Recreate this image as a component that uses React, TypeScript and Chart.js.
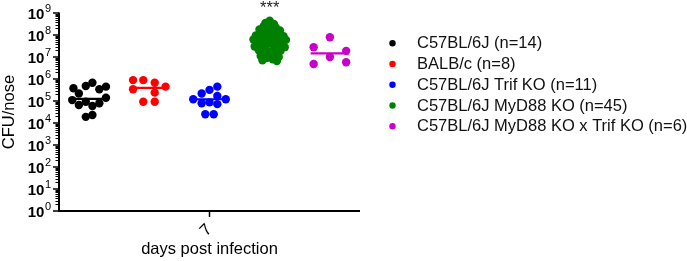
import React, { useEffect, useRef } from "react";
import { Chart, registerables } from "chart.js";

Chart.register(...registerables);

// ---------- data ----------
const groupLabels = [
  "C57BL/6J (n=14)",
  "BALB/c (n=8)",
  "C57BL/6J Trif KO (n=11)",
  "C57BL/6J MyD88 KO (n=45)",
  "C57BL/6J MyD88 KO x Trif KO (n=6)",
];
const xTickLabels = ["7"];
const yTickExponents = [0, 1, 2, 3, 4, 5, 6, 7, 8, 9];
const significanceLabel = "***";

const c57Values = [3.8e5, 4.8e5, 6.8e5, 4.5e5, 3.4e5, 2.2e5, 1.4e5, 1.1e5, 6.6e4, 9.3e4, 5.9e4, 7.9e4, 1.9e4, 2.3e4];
const balbValues = [8.9e5, 8.9e5, 6.8e5, 4.5e5, 3.4e5, 2.4e5, 9.3e4, 9.3e4];
const trifValues = [4.5e5, 3.2e5, 2.2e5, 1.2e5, 1.7e5, 1.2e5, 7.9e4, 8.7e4, 7.2e4, 2.5e4, 2.5e4];
const myd88Values = [
  4.5e8, 3.5e8, 3.2e8, 2.5e8, 2.2e8, 2.0e8, 1.8e8, 1.6e8, 1.4e8, 1.3e8, 1.1e8, 1.0e8, 9.5e7, 8.9e7, 8.3e7,
  7.9e7, 7.6e7, 7.1e7, 6.6e7, 6.3e7, 6.0e7, 5.6e7, 5.2e7, 5.0e7, 4.8e7, 4.5e7, 4.2e7, 4.0e7, 3.5e7, 3.2e7,
  3.0e7, 2.8e7, 2.5e7, 2.2e7, 2.0e7, 1.9e7, 1.6e7, 1.4e7, 1.3e7, 1.1e7, 1.0e7, 8.9e6, 7.9e6, 7.1e6, 6.6e6,
];
const dkoValues = [7.9e7, 2.8e7, 1.9e7, 1.0e7, 4.8e6, 5.8e6];

// horizontal scatter (jitter) of each point, in category units
const c57Jitter = [-0.26, -0.055, 0.055, 0.28, 0.17, -0.17, 0.28, -0.28, -0.17, -0.055, 0.055, 0.17, -0.055, 0.055];
const balbJitter = [-0.27, -0.1, 0.09, 0.27, -0.27, 0.09, -0.1, 0.09];
const trifJitter = [0.13, 0, -0.13, -0.27, 0.13, 0.27, -0.13, 0, 0.13, -0.07, 0.07];
const myd88Jitter = [
  0, -0.07, 0.07, -0.1, 0.1, 0, -0.17, 0.17, -0.05, 0.05, -0.13, 0.13, -0.23, 0.23, 0,
  -0.08, 0.08, -0.17, 0.17, -0.27, 0.27, 0, -0.1, 0.1, -0.2, 0.2, -0.03, 0.03, -0.13, 0.13,
  -0.25, 0.25, -0.07, 0.07, -0.18, 0.18, 0, -0.1, 0.1, -0.15, 0.15, -0.05, 0.05, -0.12, 0.12,
];
const dkoJitter = [0, -0.27, 0.27, 0, -0.27, 0.27];

// ---------- style ----------
const groupColors = ["#000000", "#ff0000", "#0000ff", "#008000", "#c800c8"];
const groupPositions = [-2, -1, 0, 1, 2];
const MEDIAN_HALF = 0.32;
const FONT = '"Liberation Sans", Arial, Helvetica, sans-serif';
const TEXT_SIZE = 16.5;

function median(vals: number[]): number {
  const s = [...vals].sort((a, b) => a - b);
  const n = s.length;
  return n % 2 ? s[(n - 1) / 2] : (s[n / 2 - 1] + s[n / 2]) / 2;
}

const prismPlugin = {
  id: "prismDecor",
  afterDraw(chart: any) {
    const ctx: CanvasRenderingContext2D = chart.ctx;
    const xs = chart.scales.x;
    const ys = chart.scales.y;
    const area = chart.chartArea;
    ctx.save();
    ctx.strokeStyle = "#000";
    ctx.fillStyle = "#000";

    // y axis line
    const axX = area.left;
    const axBottom = ys.getPixelForValue(1);
    ctx.lineWidth = 2;
    ctx.beginPath();
    ctx.moveTo(axX, ys.getPixelForValue(1e9) - 0.5);
    ctx.lineTo(axX, axBottom + 1);
    ctx.stroke();
    // x axis line
    ctx.beginPath();
    ctx.moveTo(axX - 1, axBottom);
    ctx.lineTo(area.right, axBottom);
    ctx.stroke();

    // y ticks
    ctx.lineWidth = 1.5;
    yTickExponents.forEach((e) => {
      const y = ys.getPixelForValue(Math.pow(10, e));
      ctx.beginPath();
      ctx.moveTo(axX - 6, y);
      ctx.lineTo(axX, y);
      ctx.stroke();
    });
    ctx.lineWidth = 1;
    for (let e = 0; e < 9; e++) {
      for (let k = 2; k <= 9; k++) {
        const y = Math.round(ys.getPixelForValue(k * Math.pow(10, e))) + 0.5;
        ctx.beginPath();
        ctx.moveTo(axX - 3.5, y);
        ctx.lineTo(axX, y);
        ctx.stroke();
      }
    }
    // y tick labels 10^n
    const labelRight = axX - 8;
    yTickExponents.forEach((e) => {
      const y = ys.getPixelForValue(Math.pow(10, e));
      ctx.font = `11px ${FONT}`;
      ctx.textAlign = "right";
      ctx.textBaseline = "alphabetic";
      const es = String(e);
      const ew = ctx.measureText(es).width;
      ctx.fillText(es, labelRight, y - 1);
      ctx.font = `bold 15px ${FONT}`;
      ctx.fillText("10", labelRight - ew - 0.5, y + 5.5);
    });

    // x tick + label
    xTickLabels.forEach((lab, i) => {
      const x = xs.getPixelForValue(groupPositions[2] + i);
      ctx.lineWidth = 1.5;
      ctx.beginPath();
      ctx.moveTo(x, axBottom);
      ctx.lineTo(x, axBottom + 6);
      ctx.stroke();
      ctx.save();
      ctx.translate(x, axBottom + 16);
      ctx.rotate(-Math.PI / 4);
      ctx.font = `${TEXT_SIZE}px ${FONT}`;
      ctx.textAlign = "right";
      ctx.textBaseline = "middle";
      ctx.fillText(lab, 0, 0);
      ctx.restore();
    });

    // axis titles
    ctx.font = `${TEXT_SIZE}px ${FONT}`;
    ctx.textAlign = "center";
    ctx.textBaseline = "alphabetic";
    ctx.fillText("days post infection", xs.getPixelForValue(0), 254);
    ctx.save();
    ctx.translate(14, (area.top + area.bottom) / 2);
    ctx.rotate(-Math.PI / 2);
    ctx.fillText("CFU/nose", 0, 0);
    ctx.restore();

    // significance stars
    ctx.font = `${TEXT_SIZE}px ${FONT}`;
    ctx.fillStyle = "#222";
    ctx.fillText(significanceLabel, xs.getPixelForValue(groupPositions[3]), 13);

    // legend
    const legendItems = chart.data.datasets.filter((d: any) => !d.isMedian);
    legendItems.forEach((d: any, i: number) => {
      const cy = 43.3 + i * 20.75;
      ctx.fillStyle = d.backgroundColor;
      ctx.beginPath();
      ctx.arc(392.5, cy, 3.2, 0, Math.PI * 2);
      ctx.fill();
      ctx.fillStyle = "#111";
      ctx.font = `${TEXT_SIZE}px ${FONT}`;
      ctx.textAlign = "left";
      ctx.textBaseline = "middle";
      ctx.fillText(d.label, 417, cy + 0.5);
    });
    ctx.restore();
  },
};

export default function App() {
  const ref = useRef<HTMLCanvasElement>(null);

  useEffect(() => {
    const groups = [
      { values: c57Values, jitter: c57Jitter },
      { values: balbValues, jitter: balbJitter },
      { values: trifValues, jitter: trifJitter },
      { values: myd88Values, jitter: myd88Jitter },
      { values: dkoValues, jitter: dkoJitter },
    ];
    const datasets: any[] = [];
    groups.forEach((g, i) => {
      const c = groupPositions[i];
      datasets.push({
        type: "scatter",
        label: groupLabels[i],
        data: g.values.map((v, j) => ({ x: c + g.jitter[j], y: v })),
        backgroundColor: groupColors[i],
        borderWidth: 0,
        pointRadius: 4.2,
        pointHoverRadius: 4.2,
        order: 1,
        clip: false,
      });
    });
    groups.forEach((g, i) => {
      const c = groupPositions[i];
      const m = median(g.values);
      datasets.push({
        type: "line",
        label: "",
        isMedian: true,
        data: [
          { x: c - MEDIAN_HALF, y: m },
          { x: c + MEDIAN_HALF, y: m },
        ],
        borderColor: groupColors[i],
        borderWidth: 2.2,
        pointRadius: 0,
        showLine: true,
        order: 0,
        clip: false,
      });
    });

    const chart = new Chart(ref.current!, {
      type: "scatter",
      data: { datasets },
      options: {
        animation: false,
        responsive: true,
        maintainAspectRatio: false,
        layout: { padding: { left: 59, right: 327, top: 13, bottom: 50 } },
        plugins: { legend: { display: false }, tooltip: { enabled: false } },
        scales: {
          x: { type: "linear", min: -2.5, max: 2.5, display: false },
          y: { type: "logarithmic", min: 1, max: 1e9, display: false },
        },
      },
      plugins: [prismPlugin],
    } as any);
    return () => chart.destroy();
  }, []);

  return (
    <div style={{ position: "absolute", left: 0, top: 0, width: 687, height: 261, background: "#fff" }}>
      <canvas ref={ref} />
    </div>
  );
}
